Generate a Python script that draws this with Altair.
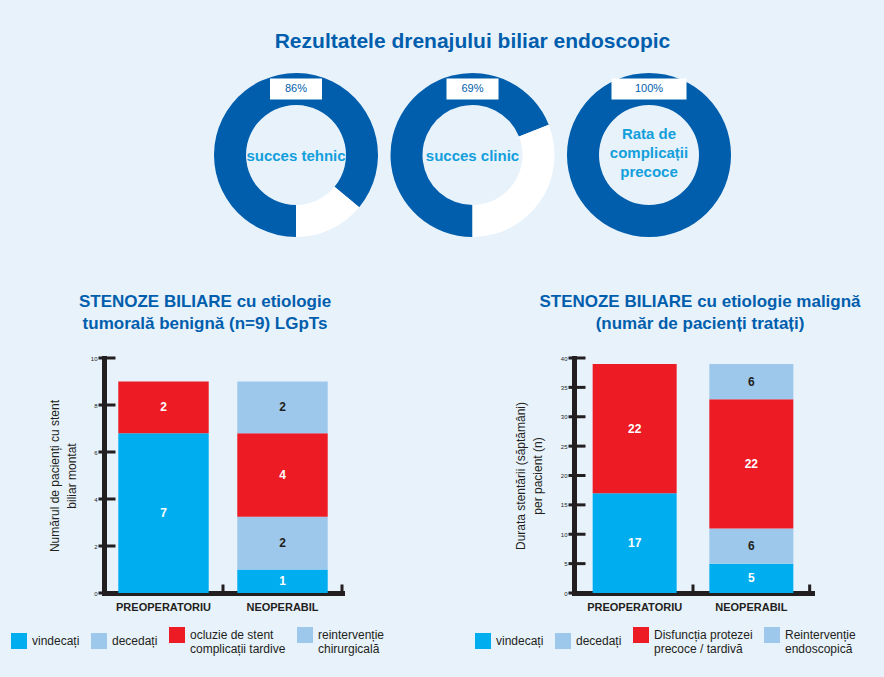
import math
import altair as alt
import pandas as pd

# ---------------- data ----------------
main_title = "Rezultatele drenajului biliar endoscopic"

donut_ids = ["d1", "d2", "d3"]
donut_main = [86, 69, 100]          # dark arc share (%)
donut_rest = [14, 31, 0]            # white arc share (%)
donut_badge = ["86%", "69%", "100%"]
donut_centre = ["succes tehnic", "succes clinic", "Rata de|complicații|precoce"]

bar_groups = ["PREOPERATORIU", "NEOPERABIL"]

left_title = ["STENOZE BILIARE cu etiologie", "tumorală benignă (n=9) LGpTs"]
left_ytitle = ["Numărul de pacienți cu stent", "biliar montat"]
left_outcomes = ["vindecați", "decedați", "ocluzie de stent|complicații tardive",
                 "reintervenție|chirurgicală"]
left_g1 = [6.8, 0, 2.2, 0]
left_g2 = [1.0, 2.25, 3.55, 2.2]
left_ticks = [0, 2, 4, 6, 8, 10]

right_title = ["STENOZE BILIARE cu etiologie malignă", "(număr de pacienți tratați)"]
right_ytitle = ["Durata stentării (săptămâni)", "per pacient (n)"]
right_outcomes = ["vindecați", "decedați", "Disfuncția protezei|precoce / tardivă",
                  "Reintervenție|endoscopică"]
right_g1 = [17, 0, 22, 0]
right_g2 = [5, 6, 22, 6]
right_ticks = [0, 5, 10, 15, 20, 25, 30, 35, 40]

# ---------------- style ----------------
FONT = "Liberation Sans"
DARK = "#005EAD"
CYAN = "#139FDB"
BLUE = "#00AEEF"
LIGHT = "#9DC8EB"
RED = "#ED1C24"
INK = "#231F20"
BG = "#E8F2FB"
PANEL_W = 238
PANEL_H = 235

# ---------------- donuts ----------------
drows = []
for i, d in enumerate(donut_ids):
    drows.append({"id": d, "part": "main", "ord": 0, "share": donut_main[i]})
    drows.append({"id": d, "part": "rest", "ord": 1, "share": donut_rest[i]})
donut_df = pd.DataFrame(drows)
info_df = pd.DataFrame({"id": donut_ids, "badge": donut_badge, "centre": donut_centre})

xs = alt.X("id:N", sort=donut_ids, scale=alt.Scale(type="point", padding=0, range=[192, 545]),
           axis=None)

rings = alt.Chart(donut_df).transform_stack(
    stack="share", groupby=["id"], as_=["t0", "t1"],
    sort=[alt.SortField("ord", order="ascending")]
).mark_arc(innerRadius=50, outerRadius=82, strokeWidth=0).encode(
    x=xs,
    y=alt.value(82),
    theta=alt.Theta("t0:Q", scale=alt.Scale(domain=[0, 100], range=[math.pi, 3 * math.pi])),
    theta2="t1:Q",
    color=alt.Color("part:N", scale=alt.Scale(domain=["main", "rest"], range=[DARK, "#FFFFFF"]),
                    legend=None),
)

box_small = alt.Chart(info_df).transform_filter(
    "datum.id !== 'd3'"
).mark_point(shape="M-1,-0.4H1V0.4H-1Z", filled=True, color="#FFFFFF", opacity=1,
             strokeWidth=0, size=52 * 52).encode(x=xs, y=alt.value(16))
box_wide = alt.Chart(info_df).transform_filter(
    "datum.id === 'd3'"
).mark_point(shape="M-1,-0.28H1V0.28H-1Z", filled=True, color="#FFFFFF", opacity=1,
             strokeWidth=0, size=75 * 75).encode(x=xs, y=alt.value(16))
badges = alt.Chart(info_df).mark_text(
    font=FONT, fontSize=11, color=DARK, baseline="middle"
).encode(x=xs, y=alt.value(16), text="badge:N")
centre_one = alt.Chart(info_df).transform_filter("datum.id !== 'd3'").mark_text(
    font=FONT, fontSize=15, fontWeight="bold", color=CYAN, baseline="middle"
).encode(x=xs, y=alt.value(83), text="centre:N")
centre_multi = alt.Chart(info_df).transform_filter("datum.id === 'd3'").mark_text(
    font=FONT, fontSize=15, fontWeight="bold", color=CYAN, baseline="middle",
    lineBreak="|", lineHeight=19
).encode(x=xs, y=alt.value(61), text="centre:N")

donuts = alt.layer(rings, box_small, box_wide, badges, centre_one, centre_multi).properties(
    width=737, height=164,
    title=alt.TitleParams(text=main_title, font=FONT, fontSize=21, fontWeight="bold",
                          color=DARK, anchor="middle", frame="group", offset=21),
)


# ---------------- bar panels ----------------
def frame(outcomes, g1, g2):
    rows = []
    for g, vals in zip(bar_groups, [g1, g2]):
        for k, (o, v) in enumerate(zip(outcomes, vals)):
            rows.append({"grupa": g, "rezultat": o, "ord": k, "valoare": v})
    return pd.DataFrame(rows)


def panel(df, outcomes, ticks, title_lines, ytitle, pin, pout, leg_x, title_dx, tpad):
    top = ticks[-1]
    xscale = alt.Scale(paddingInner=pin, paddingOuter=pout)
    xaxis = alt.Axis(title=None, labelAngle=0, ticks=False, domainWidth=5,
                     domainColor=INK, domainCap="square", labelFont=FONT,
                     labelFontSize=11, labelFontWeight="bold", labelColor=INK,
                     labelPadding=8)
    yscale = alt.Scale(domain=[0, top], nice=False, zero=True)
    yaxis = alt.Axis(values=ticks, ticks=False, grid=False, domainWidth=5,
                     domainColor=INK, domainCap="square", labelFont=FONT,
                     labelFontSize=6, labelColor=INK, labelPadding=7,
                     title=ytitle, titleFont=FONT, titleFontSize=12,
                     titleFontWeight="normal", titleColor=INK,
                     titleLineHeight=17, titlePadding=tpad)
    bars = alt.Chart(df).transform_filter("datum.valoare > 0").mark_bar(strokeWidth=0).encode(
        x=alt.X("grupa:N", sort=bar_groups, scale=xscale, axis=xaxis),
        y=alt.Y("valoare:Q", stack="zero", scale=yscale, axis=yaxis),
        color=alt.Color("rezultat:N", sort=outcomes,
                        scale=alt.Scale(domain=outcomes, range=[BLUE, LIGHT, RED, LIGHT]),
                        legend=alt.Legend(orient="none", legendX=leg_x, legendY=269,
                                          direction="horizontal", columns=4, title=None,
                                          symbolType="square", symbolSize=256,
                                          symbolStrokeWidth=0, labelFont=FONT,
                                          labelFontSize=12, labelColor=INK, labelLimit=300,
                                          labelOffset=5, columnPadding=11, padding=0,
                                          labelExpr="split(datum.label, '|')")),
        order=alt.Order("ord:Q", sort="ascending"),
    )
    labels = alt.Chart(df).transform_filter("datum.valoare > 0").transform_stack(
        stack="valoare", groupby=["grupa"], as_=["v0", "v1"],
        sort=[alt.SortField("ord", order="ascending")]
    ).transform_calculate(
        mid="(datum.v0 + datum.v1) / 2",
        eticheta="format(datum.valoare, '.0f')",
    ).mark_text(font=FONT, fontSize=12, fontWeight="bold", baseline="middle").encode(
        x=alt.X("grupa:N", sort=bar_groups, scale=xscale, axis=xaxis),
        y=alt.Y("mid:Q", scale=yscale, axis=yaxis),
        text="eticheta:N",
        color=alt.when(alt.datum.ord % 2 == 0).then(alt.value("#FFFFFF")).otherwise(alt.value(INK)),
    )
    tick_df = pd.DataFrame({"t": ticks})
    yt = alt.Chart(tick_df).mark_tick(orient="horizontal", color=INK, thickness=3, size=17,
                                      opacity=1).encode(
        y=alt.Y("t:Q", scale=yscale, axis=yaxis), x=alt.value(3)
    )
    # small upward ticks on the category axis, at the end of each band step
    step = PANEL_W / (2 - pin + 2 * pout)
    xt = alt.Chart(pd.DataFrame({"grupa": bar_groups})).mark_tick(
        orient="vertical", color=INK, thickness=3, size=9, opacity=1,
        xOffset=pin * step / 2
    ).encode(
        x=alt.X("grupa:N", sort=bar_groups, scale=xscale, axis=xaxis, bandPosition=1),
        y=alt.value(PANEL_H - 4),
    )
    return alt.layer(bars, yt, xt, labels).properties(
        width=PANEL_W, height=PANEL_H,
        title=alt.TitleParams(text=title_lines, font=FONT, fontSize=17, fontWeight="bold",
                              color=DARK, anchor="middle", dx=title_dx, offset=22,
                              lineHeight=22),
    )


left = panel(frame(left_outcomes, left_g1, left_g2), left_outcomes, left_ticks,
             left_title, left_ytitle, 0.24, 0.12, -93, -18, 12)
right = panel(frame(right_outcomes, right_g1, right_g2), right_outcomes, right_ticks,
              right_title, right_ytitle, 0.28, 0.16, -99, 7, 16)

bottom = alt.hconcat(left, right, spacing=232, bounds="flush").resolve_scale(
    color="independent", y="independent", x="independent")

chart = alt.vconcat(
    donuts, bottom, spacing=121, bounds="flush",
).resolve_scale(color="independent").configure_view(strokeWidth=0).properties(
    background=BG, padding={"left": 11, "top": 31, "right": 23, "bottom": 22}
)

chart.save("out.html", embed_options={"renderer": "svg", "actions": False})
